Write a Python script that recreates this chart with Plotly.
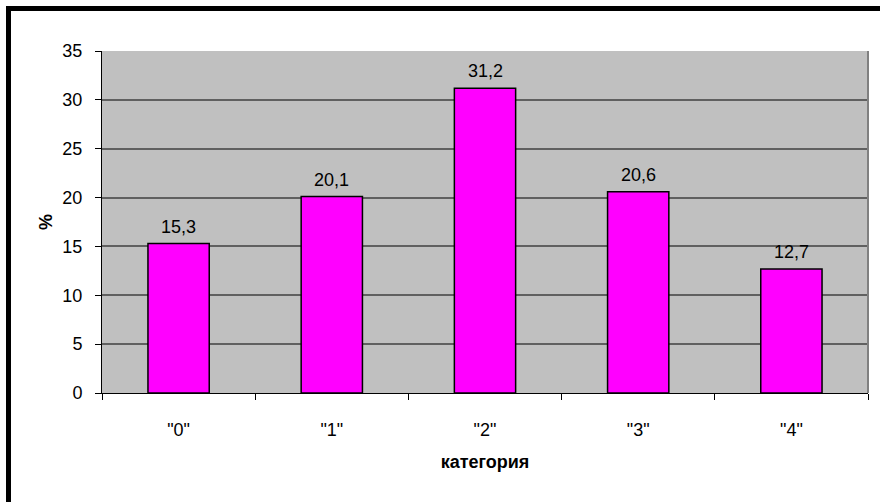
import plotly.graph_objects as go

categories = ['"0"', '"1"', '"2"', '"3"', '"4"']
percent = [15.3, 20.1, 31.2, 20.6, 12.7]
y_ticks = [0, 5, 10, 15, 20, 25, 30, 35]

W, H = 880, 502
L, R, T, B = 102, 12, 51, 109
pw, ph = W - L - R, H - T - B

FONT = "Liberation Sans, Arial, sans-serif"


def px_x(px):
    return (px - L) / pw


def px_y(py):
    return 1 - (py - T) / ph


fig = go.Figure()
fig.add_trace(go.Bar(
    x=categories,
    y=percent,
    width=0.4,
    marker=dict(color="#FF00FF", line=dict(color="#000000", width=1.5)),
    hoverinfo="x+y",
))

# value labels above each bar, decimal comma
for cat, val in zip(categories, percent):
    fig.add_annotation(
        x=cat, y=val, xref="x", yref="y",
        text=f"{val:.1f}".replace(".", ","),
        showarrow=False, yanchor="bottom", yshift=5,
        font=dict(family=FONT, size=18, color="#000000"),
    )

axis_font = dict(family=FONT, size=18, color="#000000")

fig.update_layout(
    width=W, height=H,
    margin=dict(l=L, r=R, t=T, b=B, pad=0),
    paper_bgcolor="#FFFFFF",
    plot_bgcolor="#C0C0C0",
    separators=", ",
    showlegend=False,
    xaxis=dict(
        type="category",
        tickfont=axis_font,
        showline=True, linecolor="#000000", linewidth=1,
        ticks="outside", tickson="boundaries", ticklen=6, tickcolor="#000000",
        ticklabelstandoff=20,
        showgrid=False,
        title=dict(text="<b>категория</b>", font=dict(family=FONT, size=18, color="#000000"), standoff=16),
    ),
    yaxis=dict(
        range=[0, 35],
        tickvals=y_ticks,
        tickfont=axis_font,
        showline=True, linecolor="#000000", linewidth=1,
        ticks="outside", ticklen=6, tickcolor="#000000",
        ticklabelstandoff=9,
        showgrid=True, gridcolor="#606060", gridwidth=1.5,
        zeroline=False,
        title=dict(text="<b>%</b>", font=dict(family=FONT, size=18, color="#000000"), standoff=5),
    ),
    shapes=[
        # plot area outline (right edge)
        dict(type="line", xref="paper", yref="paper", x0=1, x1=1, y0=0, y1=1,
             line=dict(color="#808080", width=2)),
        # heavy frame along the top and left edges
        dict(type="line", xref="paper", yref="paper",
             x0=px_x(6), x1=px_x(880), y0=px_y(8.5), y1=px_y(8.5),
             line=dict(color="#000000", width=5)),
        dict(type="line", xref="paper", yref="paper",
             x0=px_x(8.5), x1=px_x(8.5), y0=px_y(6), y1=px_y(502),
             line=dict(color="#000000", width=5)),
    ],
)

fig.write_html("out.html")
